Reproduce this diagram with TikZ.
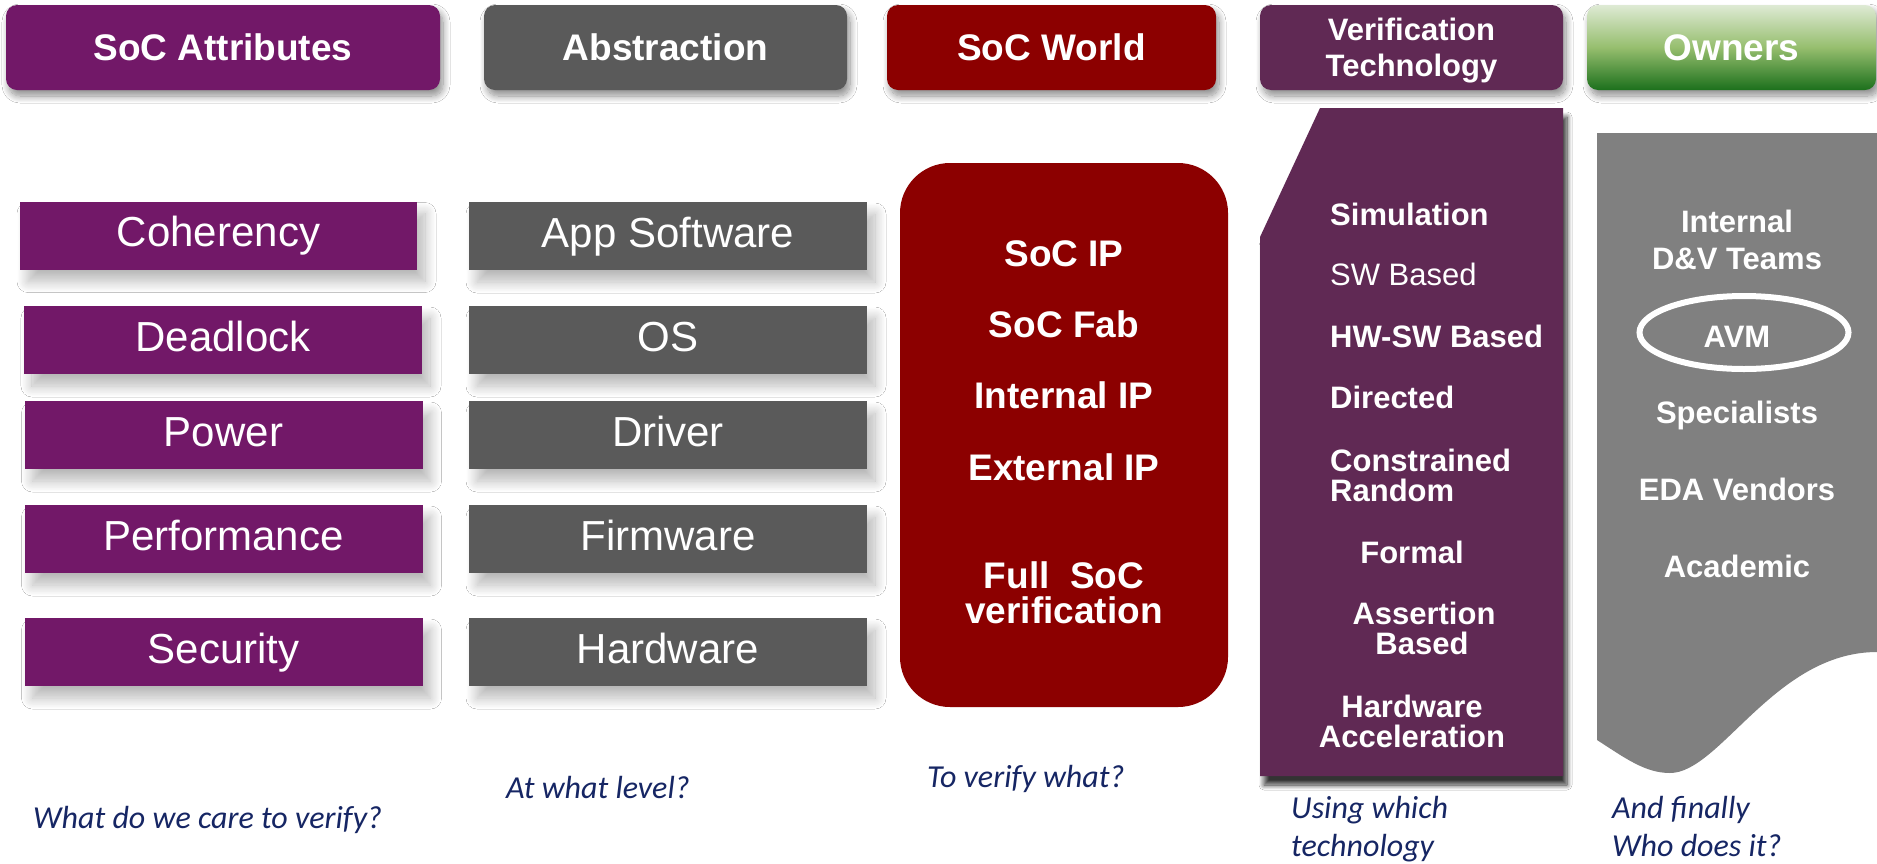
\documentclass[tikz,border=0pt]{standalone}
\usepackage{fontspec}
\setmainfont{Liberation Sans}
\newfontfamily\capfont{Carlito}
\usetikzlibrary{shapes.geometric,shadows.blur}

\definecolor{attrpurple}{RGB}{114,24,104}
\definecolor{absgray}{RGB}{90,90,90}
\definecolor{worldred}{RGB}{140,0,0}
\definecolor{techpurple}{RGB}{96,41,84}
\definecolor{ownergray}{RGB}{128,128,128}
\definecolor{greentop}{RGB}{222,234,212}
\definecolor{greenmid}{RGB}{150,190,110}
\definecolor{greenbot}{RGB}{28,112,28}
\definecolor{capnavy}{RGB}{22,38,100}

\begin{document}
\begin{tikzpicture}[x=1pt,y=-1pt,
  hdr/.style={rounded corners=11pt, minimum height=85pt, inner sep=0pt, text=white,
     font=\fontsize{37}{44}\selectfont\bfseries, text height=30pt, text depth=4pt,
     blur shadow={shadow xshift=3pt, shadow yshift=-6pt, shadow blur radius=7pt,
                  shadow blur steps=12, shadow opacity=45}},
  itembox/.style={minimum width=398pt, minimum height=68pt, inner sep=0pt, text=white,
     font=\fontsize{42}{50}\selectfont, text height=31.5pt, text depth=9.5pt,
     blur shadow={shadow xshift=8pt, shadow yshift=-12pt, shadow blur radius=11pt,
                  shadow blur steps=16, shadow opacity=28}},
  attrbox/.style={itembox, fill=attrpurple},
  absbox/.style={itembox, fill=absgray},
  worlditem/.style={anchor=base, text=white, font=\fontsize{37}{44}\selectfont\bfseries, inner sep=0pt},
  techitem/.style={text=white, font=\fontsize{31}{37}\selectfont\bfseries, inner sep=0pt},
  techleft/.style={techitem, anchor=base west},
  techmid/.style={techitem, anchor=base},
  owneritem/.style={anchor=base, text=white, font=\fontsize{31}{37}\selectfont\bfseries, inner sep=0pt},
  caption/.style={anchor=base west, text=capnavy, font=\capfont\itshape\fontsize{32}{38}\selectfont, inner sep=0pt}
]
\useasboundingbox (0,0) rectangle (1877,863);
\fill[white] (0,0) rectangle (1877,863);

% column headers
\node[hdr, fill=attrpurple, minimum width=434pt] (hAttr) at (223,47.5) {SoC Attributes};
\node[hdr, fill=absgray, minimum width=363pt] (hAbs) at (665.5,47.5) {Abstraction};
\node[hdr, fill=worldred, minimum width=329pt] (hWorld) at (1051.5,47.5) {SoC World};
\node[hdr, fill=techpurple, minimum width=303pt] (hTech) at (1411.5,47.5) {};
\node[techmid] (hTechA) at (1411.5,40) {Verification};
\node[techmid] (hTechB) at (1411.5,76) {Technology};
\node[hdr, top color=greentop, bottom color=greenbot, middle color=greenmid, minimum width=289pt] (hOwn) at (1731.5,47.5) {Owners};

% verification technology panel with a clipped corner
\path[fill=techpurple, blur shadow={shadow xshift=4pt, shadow yshift=-9pt, shadow blur radius=5pt,
      shadow blur steps=10, shadow opacity=80}]
  (1320,108) -- (1563,108) -- (1563,776) -- (1260,776) -- (1260,237) -- cycle;

% owners panel with a wavy bottom edge
\path[fill=ownergray]
  (1597,133) -- (1877,133) -- (1877,652)
  .. controls (1775,652) and (1720,773) .. (1670,773)
  .. controls (1645,773) and (1625,758) .. (1597,740) -- cycle;

% SoC world panel
\node[fill=worldred, rounded corners=50pt, minimum width=328pt, minimum height=544pt, inner sep=0pt] (world) at (1064,435) {};

% attribute column
\node[attrbox, minimum width=397pt] (coh) at (218.5,235.5) {Coherency};
\node[attrbox] (dead) at (223,340) {Deadlock};
\node[attrbox] (pow) at (223.5,435) {Power};
\node[attrbox] (perf) at (223.5,539) {Performance};
\node[attrbox] (sec) at (223.5,652) {Security};

% abstraction column
\node[absbox] (app) at (668,236) {App Software};
\node[absbox] (os) at (668,340) {OS};
\node[absbox] (drv) at (668,435) {Driver};
\node[absbox] (fw) at (668,539) {Firmware};
\node[absbox] (hw) at (668,652) {Hardware};

% SoC world items
\node[worlditem] (wIP) at (1064,266) {SoC IP};
\node[worlditem] (wFab) at (1064,337) {SoC Fab};
\node[worlditem] (wInt) at (1064,408) {Internal IP};
\node[worlditem] (wExt) at (1064,480) {External IP};
\node[worlditem] (wFullA) at (1064,588) {Full~~SoC};
\node[worlditem] (wFullB) at (1064,623) {verification};

% verification technology items
\node[techleft] (tSim) at (1330,225) {Simulation};
\node[techleft, font=\fontsize{31}{37}\selectfont] (tSW) at (1330,285) {SW Based};
\node[techleft] (tHWSW) at (1330,347) {HW-SW Based};
\node[techleft] (tDir) at (1330,408) {Directed};
\node[techleft] (tConA) at (1330,471) {Constrained};
\node[techleft] (tConB) at (1330,501) {Random};
\node[techmid] (tFor) at (1412,563) {Formal};
\node[techmid] (tAssA) at (1424,624) {Assertion};
\node[techmid] (tAssB) at (1422,654) {Based};
\node[techmid] (tHwA) at (1412,717) {Hardware};
\node[techmid] (tHwB) at (1412,747) {Acceleration};

% owners
\node[owneritem] (oIntA) at (1737,232) {Internal};
\node[owneritem] (oIntB) at (1737,269) {D\&V Teams};
\node[ellipse, draw=white, line width=6pt, minimum width=209pt, minimum height=73pt, inner sep=0pt] (avmring) at (1744,332.5) {};
\node[owneritem] (oAVM) at (1737,347) {AVM};
\node[owneritem] (oSpec) at (1737,423) {Specialists};
\node[owneritem] (oEDA) at (1737,500) {EDA Vendors};
\node[owneritem] (oAcad) at (1737,577) {Academic};

% questions under the columns
\node[caption] (qAttr) at (33,828) {What do we care to verify?};
\node[caption] (qAbs) at (506,798) {At what level?};
\node[caption] (qWorld) at (927,787) {To verify what?};
\node[caption] (qTechA) at (1291,818) {Using which};
\node[caption] (qTechB) at (1291,856) {technology};
\node[caption] (qOwnA) at (1612,818) {And finally};
\node[caption] (qOwnB) at (1612,856) {Who does it?};
\end{tikzpicture}
\end{document}
